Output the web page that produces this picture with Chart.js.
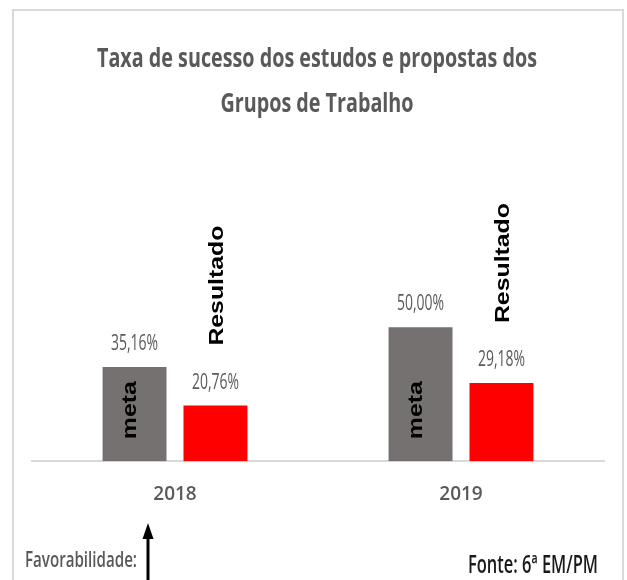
<!DOCTYPE html>
<html>
<head>
<meta charset="utf-8">
<script src="https://cdn.jsdelivr.net/npm/chart.js@4"></script>
<style>
  html, body { margin: 0; padding: 0; background: #ffffff; }
  #wrap { width: 627px; height: 580px; position: relative; }
</style>
</head>
<body>
<div id="wrap"><canvas id="c" width="627" height="580"></canvas></div>
<script>
const categories = ['2018', '2019'];
const seriesNames = ['meta', 'Resultado'];
const metaValues = [35.16, 50.00];
const resultadoValues = [20.76, 29.18];
const titleLines = ['Taxa de sucesso dos estudos e propostas dos', 'Grupos de Trabalho'];
const footerLeft = 'Favorabilidade:';
const footerRight = 'Fonte: 6ª EM/PM';

function fmt(v) { return v.toFixed(2).replace('.', ',') + '%'; }

function fitText(ctx, text, x, y, font, targetW, color, align) {
  ctx.save();
  ctx.font = font;
  const w = ctx.measureText(text).width;
  const sx = targetW / w;
  ctx.translate(x, y);
  ctx.scale(sx, 1);
  ctx.fillStyle = color;
  ctx.textAlign = align || 'center';
  ctx.textBaseline = 'alphabetic';
  ctx.fillText(text, 0, 0);
  ctx.restore();
}

function rotText(ctx, text, x, y, font, targetLen, cross, color, align, baseline) {
  ctx.save();
  ctx.font = font;
  const w = ctx.measureText(text).width;
  ctx.translate(x, y);
  ctx.rotate(-Math.PI / 2);
  ctx.scale(targetLen / w, cross);
  ctx.fillStyle = color;
  ctx.textAlign = align;
  ctx.textBaseline = baseline;
  ctx.fillText(text, 0, 0);
  ctx.restore();
}

const decor = {
  id: 'decor',
  afterDraw(chart) {
    const ctx = chart.ctx;
    // frame
    ctx.save();
    ctx.strokeStyle = '#d9d9d9';
    ctx.lineWidth = 2;
    ctx.strokeRect(13, 10, 610, 620);
    ctx.restore();
    // title
    const tf = 'bold 27px "Open Sans"';
    ctx.save();
    ctx.font = tf;
    const s1 = 440 / ctx.measureText(titleLines[0]).width;
    ctx.restore();
    [67, 112].forEach((by, i) => {
      ctx.save();
      ctx.font = tf;
      ctx.translate(317, by);
      ctx.scale(s1, 1);
      ctx.fillStyle = '#595959';
      ctx.textAlign = 'center';
      ctx.textBaseline = 'alphabetic';
      ctx.fillText(titleLines[i], 0, 0);
      ctx.restore();
    });
    // value labels and series labels
    const yScale = chart.scales.y;
    const base = yScale.getPixelForValue(0);
    chart.data.datasets.forEach((ds, di) => {
      const meta = chart.getDatasetMeta(di);
      meta.data.forEach((bar, i) => {
        const top = bar.y;
        fitText(ctx, fmt(ds.data[i]), bar.x, top - 17, '21px "Open Sans"', 47, '#595959', 'center');
        if (di === 0) {
          rotText(ctx, ds.label, bar.x - 4, base - 51, 'bold 25px "Liberation Sans"', 58, 0.8, '#000000', 'center', 'middle');
        } else {
          rotText(ctx, ds.label, bar.x + 2, top - 60, 'bold 25px "Liberation Sans"', 120, 0.8, '#000000', 'left', 'middle');
        }
      });
    });
    // footer
    fitText(ctx, footerLeft, 25, 567, '600 21px "Open Sans"', 112, '#595959', 'left');
    fitText(ctx, footerRight, 468, 573, '600 25px "Open Sans"', 130, '#1a1a1a', 'left');
    // arrow
    ctx.save();
    ctx.strokeStyle = '#000000';
    ctx.fillStyle = '#000000';
    ctx.lineWidth = 3;
    ctx.beginPath();
    ctx.moveTo(148, 580);
    ctx.lineTo(148, 535);
    ctx.stroke();
    ctx.beginPath();
    ctx.moveTo(148, 523);
    ctx.lineTo(142.5, 539);
    ctx.lineTo(153.5, 539);
    ctx.closePath();
    ctx.fill();
    ctx.restore();
  }
};

new Chart(document.getElementById('c'), {
  type: 'bar',
  data: {
    labels: categories,
    datasets: [
      { label: seriesNames[0], data: metaValues, backgroundColor: '#767171', borderWidth: 0 },
      { label: seriesNames[1], data: resultadoValues, backgroundColor: '#ff0000', borderWidth: 0 }
    ]
  },
  options: {
    responsive: false,
    animation: false,
    devicePixelRatio: 1,
    layout: { padding: { left: 32, right: 23, top: 247, bottom: 52 } },
    categoryPercentage: 0.566,
    barPercentage: 0.79,
    plugins: {
      legend: { display: false },
      title: { display: false },
      tooltip: { enabled: false }
    },
    scales: {
      x: {
        grid: { display: false, drawTicks: false },
        border: { display: true, color: '#d9d9d9', width: 2 },
        ticks: { color: '#595959', padding: 22, font: { family: '"Open Sans"', size: 19, weight: '600' } }
      },
      y: { display: false, min: 0, max: 80 }
    }
  },
  plugins: [decor]
});
</script>
</body>
</html>
